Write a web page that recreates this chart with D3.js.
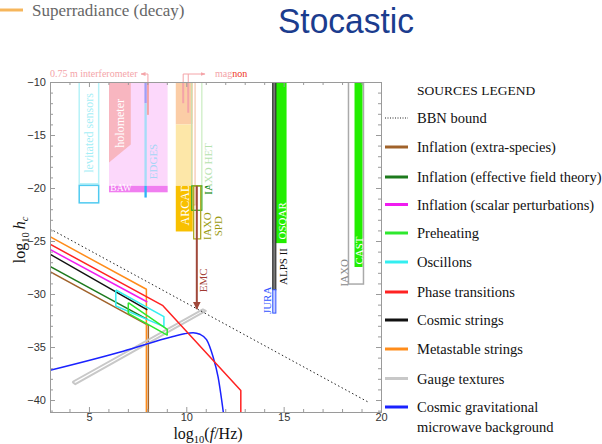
<!DOCTYPE html>
<html><head><meta charset="utf-8">
<script src="https://cdn.jsdelivr.net/npm/d3@7"></script>
<style>body{margin:0;background:#fff} svg{display:block}</style>
</head><body>
<svg id="c" width="602" height="444"></svg>
<script>
// ---- axis setup (log10 f/Hz vs log10 h_c) ----
const xDomain = [3, 20];
const yDomain = [-41.13, -10];
const xTicks = [5, 10, 15, 20];
const yTicks = [-40, -35, -30, -25, -20, -15, -10];

// ---- source curves, points are [log10 f, log10 hc] ----
const bbnBound = [[3, -23.85], [19.4, -40.25]];
const inflationExtraSpecies = [[3, -41.13], [3, -27.9], [8.05, -32.95], [8.05, -41.13]];
const inflationEFT = [[3, -27.4], [8.0, -32.4]];
const inflationScalar = [[3, -25.8], [8.0, -30.75]];
const cosmicStrings = [[3, -26.25], [8.0, -31.5]];
const metastableStrings = [[3, -24.6], [7.95, -29.55], [7.95, -41.13]];
const phaseTransitions = [[3, -25.3], [8.8, -31.1], [12.8, -39.1], [12.8, -41.13]];
const oscillons = [[6.38, -29.62], [8.85, -32.14], [8.85, -33.08], [6.38, -31.13], [6.38, -29.62]];
const preheating = [[7.02, -30.82], [9.02, -33.33], [9.02, -33.87], [7.02, -31.82], [7.02, -30.82]];
const gaugeTextures = [[4.15, -38.3], [10.85, -31.45], [11.0, -31.6], [4.3, -38.5], [4.15, -38.3]];
const cgmb = [[3, -37.2], [6.76, -35.4], [9.32, -34.0], [9.9, -33.75], [10.35, -33.65], [10.7, -33.8],
              [11.04, -34.3], [11.37, -35.9], [11.63, -37.8], [11.9, -41.13]];

// ---- detector sensitivity bands: [x0, x1, y0, y1] ----
const levitatedUpper = [4.5, 5.5, -10, -19.6];
const levitatedLower = [4.5, 5.5, -19.75, -21.4];
const holometer = [[6.03, -10], [7.15, -10], [7.15, -15.9], [6.03, -17.6]];
const bawRegion = [6.03, 9.04, -10, -20.4];
const bawStrip = [6.03, 9.04, -19.8, -20.4];
const edgesTop = [7.85, 7.97, -10, -12.0];
const edgesMid = [7.85, 7.97, -12.0, -19.8];
const edgesLow = [7.85, 7.97, -19.8, -20.9];
const interferometer = [[8.03, -10], [8.03, -13.1]];
const arcadeTop = [9.46, 10.33, -10, -14.0];
const arcadeMid = [9.46, 10.33, -14.0, -19.8];
const arcadeLow = [9.46, 10.33, -19.8, -24.1];
const magnonBand = [10.28, 10.45, -10, -21.6];
const magnonLines = [[[9.84, -10], [9.84, -12.0]], [[10.1, -10], [10.1, -12.9]]];
const iaxoHetUpper = [10.28, 10.8, -10, -19.8];
const iaxoHetLower = [10.28, 10.8, -19.8, -22.1];
const iaxoSpd = [10.38, 10.74, -19.8, -24.8];
const emcArrow = [[10.54, -19.8], [10.54, -31.4]];
const osqar = [14.44, 15.15, -10, -25.2];
const alps = [14.44, 14.6, -10, -29.6];
const jura = [14.44, 14.6, -29.6, -31.8];
const iaxo = [18.33, 19.1, -10, -29.06];
const cast = [18.64, 19.05, -10, -27.45];

// ---- legend ----
const legendNames = ["Inflation (extra-species)", "Inflation (effective field theory)",
  "Inflation (scalar perturbations)", "Preheating", "Oscillons", "Phase transitions",
  "Cosmic strings", "Metastable strings", "Gauge textures", "Cosmic gravitational|microwave background"];
const legendColors = ["#a0622a", "#1d7a1d", "#f01cf0", "#2ee82e", "#33eef0", "#ff2222",
  "#111111", "#ff8c1a", "#c8c8c8", "#1a22ff"];

const svg = d3.select("#c");
const x = d3.scaleLinear().domain(xDomain).range([50, 381]);
const y = d3.scaleLinear().domain(yDomain).range([412, 82]);
const serif = "'Liberation Serif', 'Times New Roman', serif";
const sans = "'Liberation Sans', Arial, sans-serif";

// header
svg.append("line").attr("x1", 0).attr("x2", 23).attr("y1", 10).attr("y2", 10)
  .attr("stroke", "#f6b65c").attr("stroke-width", 3);
svg.append("text").attr("x", 32).attr("y", 16).attr("font-family", serif)
  .attr("font-size", 17).attr("fill", "#666").text("Superradiance (decay)");
svg.append("text").attr("x", 278).attr("y", 33).attr("font-family", sans)
  .attr("font-size", 35).attr("fill", "#1b3c8e").attr("textLength", 136)
  .attr("lengthAdjust", "spacingAndGlyphs").text("Stocastic");

// clip paths and markers
const defs = svg.append("defs");
defs.append("clipPath").attr("id", "plotClip").append("rect")
  .attr("x", 50).attr("y", 82).attr("width", 331).attr("height", 330);
defs.append("clipPath").attr("id", "hetLow").append("rect")
  .attr("x", 150).attr("y", y(-19.8)).attr("width", 100).attr("height", 100);
defs.append("clipPath").attr("id", "arcClip").append("rect")
  .attr("x", x(9.46)).attr("y", y(-19.8)).attr("width", x(10.33) - x(9.46)).attr("height", y(-24.1) - y(-19.8));
defs.append("marker").attr("id", "arrowEmc").attr("viewBox", "0 0 10 10").attr("refX", 9).attr("refY", 5)
  .attr("markerWidth", 4).attr("markerHeight", 4).attr("orient", "auto")
  .append("path").attr("d", "M0,0L10,5L0,10z").attr("fill", "#a0483a");
defs.append("marker").attr("id", "arrowPink").attr("viewBox", "0 0 10 10").attr("refX", 9).attr("refY", 5)
  .attr("markerWidth", 5).attr("markerHeight", 5).attr("orient", "auto")
  .append("path").attr("d", "M0,1L10,5L0,9z").attr("fill", "#f4a4a8");

const plot = svg.append("g").attr("clip-path", "url(#plotClip)");

function rect(b, fill, stroke, sw) {
  plot.append("rect").attr("x", x(b[0])).attr("y", y(b[2]))
    .attr("width", x(b[1]) - x(b[0])).attr("height", y(b[3]) - y(b[2]))
    .attr("fill", fill).attr("stroke", stroke || "none").attr("stroke-width", sw || 1);
}
const line = d3.line().x(d => x(d[0])).y(d => y(d[1]));
const smooth = d3.line().x(d => x(d[0])).y(d => y(d[1])).curve(d3.curveMonotoneX);
function path(pts, color, w, extra, gen) {
  const p = plot.append("path").attr("d", (gen || line)(pts)).attr("fill", "none")
    .attr("stroke", color).attr("stroke-width", w).attr("stroke-linejoin", "round");
  if (extra) extra(p);
  return p;
}
// rotated label; optional clip is applied on a wrapping group in plot coordinates
function vtext(txt, px, py, color, size, clipId) {
  const g = plot.append("g");
  if (clipId) g.attr("clip-path", `url(#${clipId})`);
  return g.append("text").attr("transform", `translate(${px},${py}) rotate(-90)`)
    .attr("text-anchor", "middle").attr("dy", "0.35em").attr("font-family", serif)
    .attr("font-size", size || 11).attr("fill", color).text(txt);
}

// detector bands
rect(bawRegion, "#fcd8fb");
plot.append("path").attr("d", line(holometer) + "Z").attr("fill", "#f8b6c0");
rect(bawStrip, "#f07ef0");
rect(levitatedUpper, "none", "#b6f2f8", 1.5);
rect(levitatedLower, "none", "#4fcaf0", 1.5);
rect(edgesTop, "#9f9ff6");
rect(edgesMid, "#a6dcf8");
rect(edgesLow, "#2fb4f6");
path(interferometer, "#f4a4a8", 2);
rect(arcadeTop, "#fbcda6");
rect(arcadeMid, "#fde7a8");
rect(arcadeLow, "#f8c000");
rect(magnonBand, "none", "#f2b89a", 1);
rect(iaxoHetUpper, "none", "#bfe8b4", 1);
rect(iaxoHetLower, "none", "#33aa22", 1.2);
rect(iaxoSpd, "none", "#a8a418", 1.2);
rect(osqar, "#22ee00");
rect(alps, "#777", "#222", 1);
rect(jura, "#c8d0ff", "#3355ff", 1);
rect(iaxo, "none", "#aaaaaa", 1.5);
rect(cast, "#22ee00");

// band labels
vtext("levitated sensors", x(5.0), y(-14.8), "#a6eef6", 12);
vtext("holometer", x(6.58), y(-13.9), "#ffffff", 12);
vtext("EDGES", x(8.29), y(-17.5), "#a6d6f6", 11);
plot.append("text").attr("x", x(6.1)).attr("y", y(-20.3)).attr("font-family", serif)
  .attr("font-size", 9.5).attr("fill", "#fff").text("BAW");
vtext("ARCADE", x(9.9), y(-21.2), "#ffffff", 12, "arcClip");
vtext("IAXO HET", x(11.11), y(-18.2), "#b6e2ae", 11);
vtext("IAXO HET", x(11.11), y(-18.2), "#1f8a1f", 11, "hetLow");
vtext("IAXO", x(11.06), y(-23.6), "#9a9a10", 11);
vtext("SPD", x(11.63), y(-23.6), "#9a9a10", 11);
vtext("EMC", x(10.85), y(-28.7), "#a03a32", 11);
vtext("OSQAR", x(14.94), y(-23.1), "#ffffff", 11);
vtext("ALPS II", x(14.97), y(-27.4), "#111", 11);
vtext("JURA", x(14.15), y(-30.6), "#3355ff", 11);
vtext("CAST", x(18.87), y(-25.9), "#ffffff", 11);
vtext("IAXO", x(18.1), y(-28.0), "#888", 11);

// source curves
path(inflationExtraSpecies, legendColors[0], 1.5);
path(metastableStrings, legendColors[7], 1.5);
path(gaugeTextures, legendColors[8], 2);
path(cgmb, legendColors[9], 1.5, null, smooth);
path(inflationEFT, legendColors[1], 1.5);
path(cosmicStrings, legendColors[6], 1.5);
path(inflationScalar, legendColors[2], 1.5);
path(oscillons, legendColors[4], 1.5);
path(preheating, legendColors[3], 1.5);
path(phaseTransitions, legendColors[5], 1.5);
path(bbnBound, "#222", 1, p => p.attr("stroke-dasharray", "1.5,2.5"));
path(emcArrow, "#a0483a", 2, p => p.attr("marker-end", "url(#arrowEmc)"));

// annotations above the frame
svg.append("text").attr("x", 50).attr("y", 77).attr("font-family", serif).attr("font-size", 10)
  .attr("fill", "#f4a4a8").text("0.75 m interferometer");
svg.append("path").attr("d", `M${x(8.03)},${y(-11)}V74H141`).attr("fill", "none")
  .attr("stroke", "#f4a4a8").attr("stroke-width", 1).attr("marker-end", "url(#arrowPink)");
magnonLines.forEach(l => path(l, "#f4a4a8", 2));
svg.append("path").attr("d", `M${x(9.84)},${y(-11)}V74H205`).attr("fill", "none")
  .attr("stroke", "#f4a4a8").attr("stroke-width", 1).attr("marker-end", "url(#arrowPink)");
svg.append("path").attr("d", `M${x(10.1)},${y(-11)}V74`).attr("fill", "none")
  .attr("stroke", "#f4a4a8").attr("stroke-width", 1);
const mg = svg.append("text").attr("x", 215).attr("y", 77).attr("font-family", serif).attr("font-size", 10);
mg.append("tspan").attr("fill", "#f4a4a8").text("mag");
mg.append("tspan").attr("fill", "#ee3322").text("non");

// frame & ticks
const frameColor = "#9a9a9a";
function styleAxis(g) {
  g.select(".domain").attr("stroke", frameColor);
  g.selectAll(".tick line").attr("stroke", frameColor);
  g.selectAll(".tick text").attr("fill", "#333").attr("font-family", sans).attr("font-size", 11);
}
const minorX = d3.range(3, 21).filter(v => !xTicks.includes(v));
const minorY = d3.range(-41, -9).filter(v => !yTicks.includes(v));
svg.append("g").attr("transform", "translate(0,412)")
  .call(d3.axisBottom(x).tickValues(xTicks).tickSize(-5).tickPadding(1)).call(styleAxis);
svg.append("g").attr("transform", "translate(0,412)")
  .call(d3.axisBottom(x).tickValues(minorX).tickSize(-3).tickFormat("")).call(styleAxis);
svg.append("g").attr("transform", "translate(0,82)")
  .call(d3.axisTop(x).tickValues(xTicks).tickSize(-5).tickFormat("")).call(styleAxis);
svg.append("g").attr("transform", "translate(0,82)")
  .call(d3.axisTop(x).tickValues(minorX).tickSize(-3).tickFormat("")).call(styleAxis);
svg.append("g").attr("transform", "translate(50,0)")
  .call(d3.axisLeft(y).tickValues(yTicks).tickSize(-5).tickPadding(4)).call(styleAxis);
svg.append("g").attr("transform", "translate(50,0)")
  .call(d3.axisLeft(y).tickValues(minorY).tickSize(-3).tickFormat("")).call(styleAxis);
svg.append("g").attr("transform", "translate(381,0)")
  .call(d3.axisRight(y).tickValues(yTicks).tickSize(-5).tickFormat("")).call(styleAxis);
svg.append("g").attr("transform", "translate(381,0)")
  .call(d3.axisRight(y).tickValues(minorY).tickSize(-3).tickFormat("")).call(styleAxis);

// axis titles
const xl = svg.append("text").attr("x", 208).attr("y", 439).attr("text-anchor", "middle")
  .attr("font-family", serif).attr("font-size", 16).attr("fill", "#111");
xl.append("tspan").text("log");
xl.append("tspan").attr("font-size", 10.5).attr("dy", 4).text("10");
xl.append("tspan").attr("dy", -4).text("(");
xl.append("tspan").attr("font-style", "italic").text("f");
xl.append("tspan").text("/Hz)");
const yl = svg.append("text").attr("transform", "translate(25,240) rotate(-90)").attr("text-anchor", "middle")
  .attr("font-family", serif).attr("font-size", 16).attr("fill", "#111");
yl.append("tspan").text("log");
yl.append("tspan").attr("font-size", 10.5).attr("dy", 4).text("10");
yl.append("tspan").attr("dy", -4).attr("font-style", "italic").attr("dx", 3).text("h");
yl.append("tspan").attr("font-size", 10.5).attr("dy", 3).attr("font-style", "italic").text("c");

// legend
const lg = svg.append("g").attr("font-family", serif).attr("fill", "#111");
lg.append("text").attr("x", 417).attr("y", 95).attr("font-size", 13.5).text("SOURCES LEGEND");
lg.append("line").attr("x1", 385).attr("x2", 408).attr("y1", 118).attr("y2", 118)
  .attr("stroke", "#222").attr("stroke-width", 1).attr("stroke-dasharray", "1,1.5");
lg.append("text").attr("x", 417).attr("y", 123).attr("font-size", 14.5).text("BBN bound");
const ly = [147, 177, 204.5, 233, 262, 292, 320, 349, 378.5, 407];
legendNames.forEach((n, i) => {
  lg.append("line").attr("x1", 385).attr("x2", 408).attr("y1", ly[i]).attr("y2", ly[i])
    .attr("stroke", legendColors[i]).attr("stroke-width", 3);
  n.split("|").forEach((part, j) => {
    lg.append("text").attr("x", 417).attr("y", ly[i] + 5 + j * 20).attr("font-size", 14.5).text(part);
  });
});
</script>
</body></html>
